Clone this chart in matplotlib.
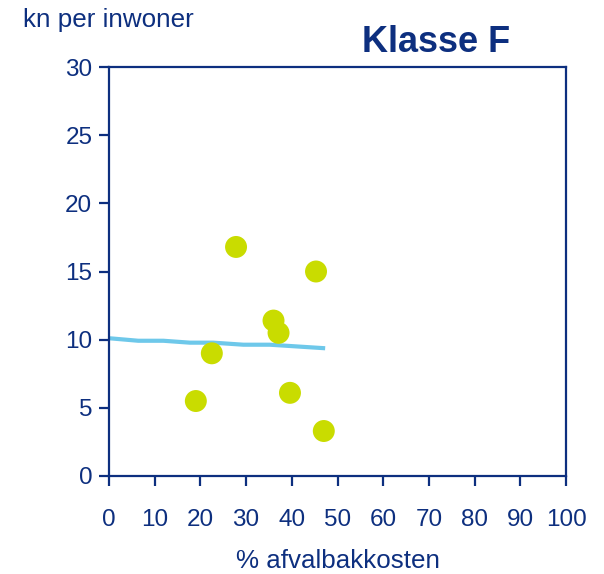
import matplotlib.pyplot as plt

# afvalbakkosten (%) vs kosten per inwoner, klasse F
pct_kosten = [27.8, 45.3, 36.0, 37.1, 22.5, 19.0, 39.6, 47.0]
kn_inwoner = [16.8, 15.0, 11.4, 10.5, 9.0, 5.5, 6.1, 3.3]

# trendlijn
trend_x = [0.2, 6.4, 11.9, 17.7, 22.8, 29.4, 35.2, 47.3]
trend_y = [10.1, 9.92, 9.92, 9.78, 9.78, 9.63, 9.63, 9.37]

navy = '#0d2f7f'
plt.rcParams['font.family'] = ['Liberation Sans', 'DejaVu Sans']

fig = plt.figure(figsize=(6.04, 5.74), dpi=100)
ax = fig.add_axes([109 / 604, 1 - 476 / 574, 457 / 604, 409 / 574])

ax.plot(trend_x, trend_y, color='#6ec8ea', lw=3, solid_capstyle='butt', zorder=2)
ax.scatter(pct_kosten, kn_inwoner, s=250, color='#c9dc00', edgecolors='none', zorder=3)

ax.set_xlim(0, 100)
ax.set_ylim(0, 30)
ax.set_xticks(range(0, 101, 10))
ax.set_yticks(range(0, 31, 5))
for s in ax.spines.values():
    s.set_color(navy)
    s.set_linewidth(1.6)
ax.tick_params(colors=navy, labelsize=17.5, length=7, width=1.6, direction='out')
ax.tick_params(axis='x', pad=17)
ax.tick_params(axis='y', pad=5)

ax.set_xlabel('% afvalbakkosten', fontsize=18.7, color=navy, labelpad=13)
fig.text(23 / 604, 1 - 20 / 574, 'kn per inwoner', fontsize=18.7, color=navy,
         ha='left', va='center')
fig.text(436 / 604, 1 - 43 / 574, 'Klasse F', fontsize=26, fontweight='bold',
         color=navy, ha='center', va='center')

fig.savefig('out.png', dpi=100)
